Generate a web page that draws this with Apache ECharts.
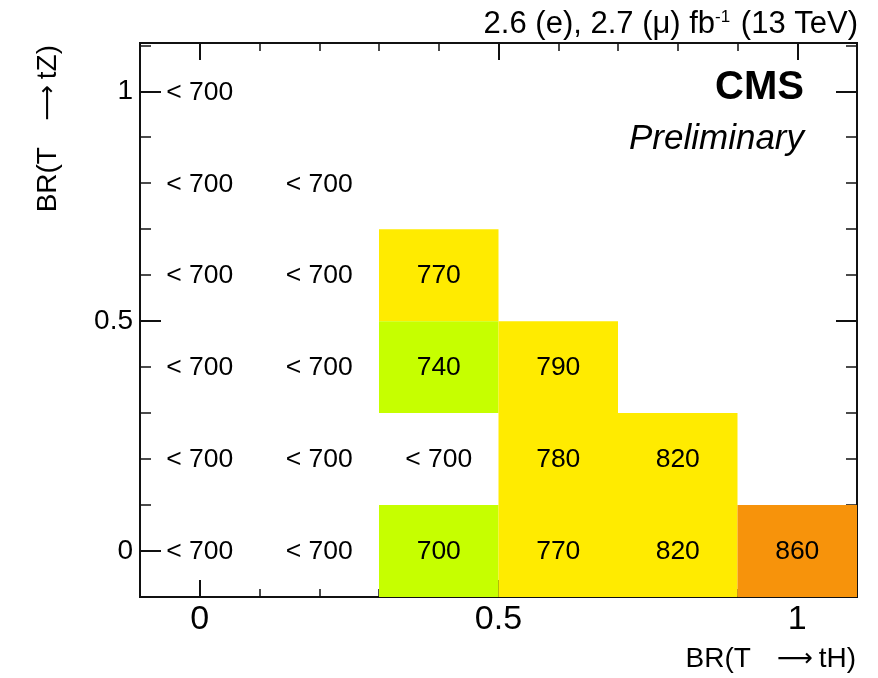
<!DOCTYPE html>
<html>
<head>
<meta charset="utf-8">
<script src="https://cdn.jsdelivr.net/npm/echarts@6/dist/echarts.min.js"></script>
<style>
html,body{margin:0;padding:0;background:#fff;}
#chart{width:878px;height:678px;}
</style>
</head>
<body>
<div id="chart"></div>
<script>
// ---- data ----
// each cell: (cellsTH[i], cellsTZ[i]) -> massLimit[i] in GeV; null means "< 700"
const cellsTH = [0,   0,   0.2, 0,   0.2, 0.4, 0,   0.2, 0.4, 0.6, 0,   0.2, 0.4, 0.6, 0.8, 0,   0.2, 0.4, 0.6, 0.8, 1.0];
const cellsTZ = [1,   0.8, 0.8, 0.6, 0.6, 0.6, 0.4, 0.4, 0.4, 0.4, 0.2, 0.2, 0.2, 0.2, 0.2, 0,   0,   0,   0,   0,   0];
const massLimit = [null, null, null, null, null, 770, null, null, 740, 790, null, null, null, 780, 820, null, null, 700, 770, 820, 860];
const majorTicks = [0, 0.5, 1];
const tickLabels = ['0', '0.5', '1'];

const FONT = '"Liberation Sans", Arial, Helvetica, sans-serif';

function cellColor(v) {
  if (v < 750) return '#c6ff00';
  if (v < 840) return '#ffeb00';
  return '#f7930b';
}
function fmt(v) {
  for (let i = 0; i < majorTicks.length; i++) {
    if (Math.abs(v - majorTicks[i]) < 1e-6) return tickLabels[i];
  }
  return '';
}

const lineStyle = { color: '#111', width: 2 };

function makeX(pos, major, withLabel) {
  return {
    type: 'value', position: pos, min: -0.1, max: 1.1, interval: 0.1, gridIndex: 0,
    splitLine: { show: false },
    axisLine: { show: true, onZero: false, lineStyle: lineStyle },
    axisTick: major
      ? { show: true, inside: true, length: 17, customValues: majorTicks, lineStyle: { color: '#111', width: 2 } }
      : { show: true, inside: true, length: 8, lineStyle: { color: '#111', width: 1.5 } },
    axisLabel: withLabel
      ? { show: true, customValues: majorTicks, formatter: fmt, fontSize: 34, color: '#000', fontFamily: FONT, margin: 6 }
      : { show: false }
  };
}
function makeY(pos, major, withLabel) {
  return {
    type: 'value', position: pos, min: -0.1, max: 1.105, interval: 0.1, gridIndex: 0,
    splitLine: { show: false },
    axisLine: { show: true, onZero: false, lineStyle: lineStyle },
    axisTick: major
      ? { show: true, inside: true, length: 21, customValues: majorTicks, lineStyle: { color: '#111', width: 2 } }
      : { show: true, inside: true, length: 11, lineStyle: { color: '#111', width: 1.5 } },
    axisLabel: withLabel
      ? { show: true, customValues: majorTicks, formatter: fmt, fontSize: 28, color: '#000', fontFamily: FONT, margin: 7 }
      : { show: false }
  };
}

const chart = echarts.init(document.getElementById('chart'), null, { renderer: 'canvas' });

const arrowRich = {
  arr: { fontFamily: '"DejaVu Sans"', fontSize: 25, fill: '#000', padding: [0, 6, 0, 26] }
};

const option = {
  animation: false,
  backgroundColor: '#fff',
  grid: { left: 140, right: 21, top: 43, bottom: 81, containLabel: false },
  xAxis: [makeX('bottom', false, true), makeX('bottom', true, false), makeX('top', false, false), makeX('top', true, false)],
  yAxis: [makeY('left', false, true), makeY('left', true, false), makeY('right', false, false), makeY('right', true, false)],
  series: [{
    type: 'custom',
    xAxisIndex: 0, yAxisIndex: 0,
    clip: true,
    z: 1,
    data: cellsTH.map((x, i) => [x, cellsTZ[i]]),
    renderItem: function (params, api) {
      const x = api.value(0), y = api.value(1);
      const v = massLimit[params.dataIndex];
      const p0 = api.coord([x - 0.1, y + 0.1]);
      const p1 = api.coord([x + 0.1, y - 0.1]);
      const c = api.coord([x, y]);
      const children = [];
      if (v !== null) {
        children.push({
          type: 'rect',
          shape: { x: p0[0], y: p0[1], width: p1[0] - p0[0], height: p1[1] - p0[1] },
          style: { fill: cellColor(v) }
        });
      }
      children.push({
        type: 'text',
        x: c[0], y: c[1] + 1,
        style: {
          text: v === null ? '< 700' : String(v),
          fill: '#000', font: '26.5px ' + FONT,
          align: 'center', verticalAlign: 'middle'
        }
      });
      return { type: 'group', children: children };
    }
  }],
  graphic: [
    {
      type: 'text', x: 858, y: 24,
      style: {
        text: '2.6 (e), 2.7 (μ) fb{sup|-1} (13 TeV)',
        font: '31px ' + FONT, fill: '#000', align: 'right', verticalAlign: 'middle',
        rich: { sup: { fontSize: 17, verticalAlign: 'top', padding: [0, 2, 12, 0], fontFamily: FONT, fill: '#000' } }
      }
    },
    {
      type: 'text', x: 804, y: 88,
      style: { text: 'CMS', font: 'bold 40px ' + FONT, fill: '#000', align: 'right', verticalAlign: 'middle' }
    },
    {
      type: 'text', x: 804, y: 139,
      style: { text: 'Preliminary', font: 'italic 35px ' + FONT, fill: '#000', align: 'right', verticalAlign: 'middle' }
    },
    {
      type: 'text', x: 856, y: 659,
      style: { text: 'BR(T{arr|⟶}tH)', font: '28px ' + FONT, fill: '#000', align: 'right', verticalAlign: 'middle', rich: arrowRich }
    },
    {
      type: 'text', x: 48, y: 45, rotation: Math.PI / 2,
      style: { text: 'BR(T{arr|⟶}tZ)', font: '28px ' + FONT, fill: '#000', align: 'right', verticalAlign: 'middle', rich: arrowRich }
    }
  ]
};
chart.setOption(option);
</script>
</body>
</html>
